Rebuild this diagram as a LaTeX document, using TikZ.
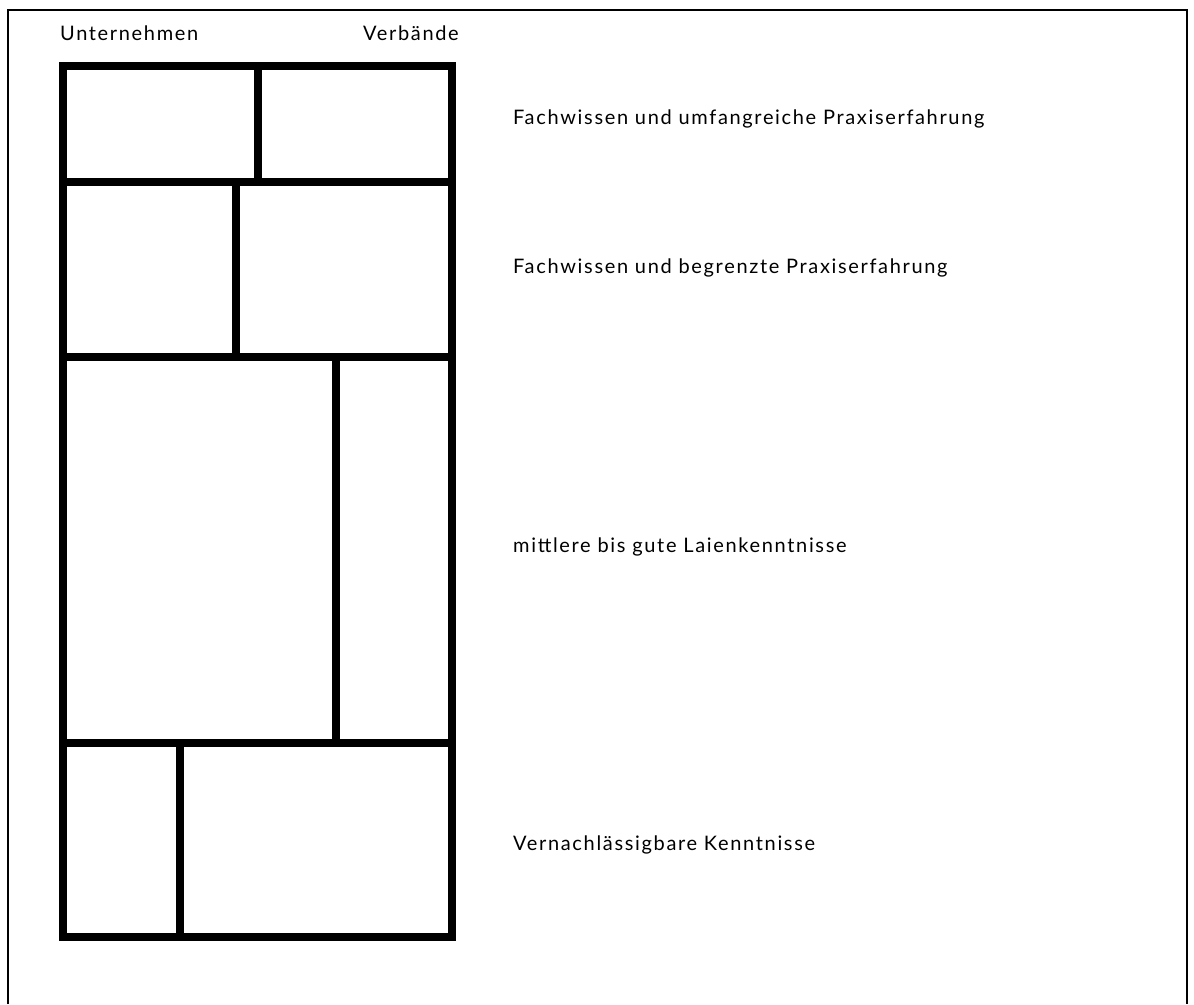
\documentclass[tikz,border=0pt]{standalone}
\usepackage{fontspec}
\setmainfont{Lato}[LetterSpace=8.3]
\begin{document}
\begin{tikzpicture}[x=1pt,y=-1pt,
  frame/.style={line width=1.7pt},
  grid/.style={line width=8pt},
  lbl/.style={anchor=west,inner sep=0pt,font=\fontsize{20}{24}\selectfont},
  head/.style={anchor=west,inner sep=0pt,font=\fontsize{20}{24}\selectfont}]
\useasboundingbox (0,0) rectangle (1194,1004);
% outer frame (open at the bottom)
\draw[frame] (8,1004) -- (8,10) -- (1187,10) -- (1187,1004);
% grid of boxes
\draw[grid] (63,66) rectangle (451.5,937);
\draw[grid] (63,182) -- (451.5,182);
\draw[grid] (63,357) -- (451.5,357);
\draw[grid] (63,743.3) -- (451.5,743.3);
\draw[grid] (257.5,66) -- (257.5,182);
\draw[grid] (236,182) -- (236,357);
\draw[grid] (336,357) -- (336,743.3);
\draw[grid] (179.5,743.3) -- (179.5,937);
% column headings
\node[head] (u) at (60,33) {Unternehmen};
\node[head] (v) at (363,33) {Verbände};
% row labels
\node[lbl] (r1) at (513,119) {Fachwissen und umfangreiche Praxiserfahrung};
\node[lbl] (r2) at (513,268) {Fachwissen und begrenzte Praxiserfahrung};
\node[lbl] (r3) at (513,547) {mittlere bis gute Laienkenntnisse};
\node[lbl] (r4) at (513,845) {Vernachlässigbare Kenntnisse};
\end{tikzpicture}
\end{document}
